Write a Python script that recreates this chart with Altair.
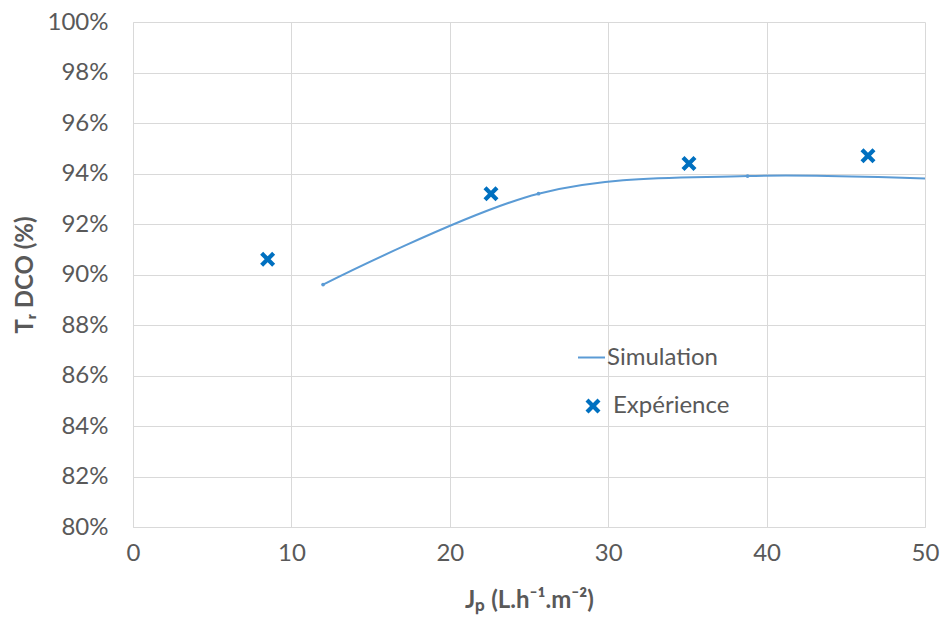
import altair as alt
import pandas as pd

# Simulation (smoothed line with small markers)
sim_x = [12.0, 25.6, 38.8, 52.0]
sim_y = [0.896, 0.932, 0.939, 0.9375]
# Experimental points
exp_x = [8.5, 22.6, 35.1, 46.4]
exp_y = [0.906, 0.932, 0.944, 0.947]

x_ticks = [0, 10, 20, 30, 40, 50]
y_ticks = [0.80, 0.82, 0.84, 0.86, 0.88, 0.90, 0.92, 0.94, 0.96, 0.98, 1.00]

sim = pd.DataFrame({"x": sim_x, "y": sim_y, "series": ["Simulation"] * len(sim_x)})
exp = pd.DataFrame({"x": exp_x, "y": exp_y, "series": ["Expérience"] * len(exp_x)})

FONT = "Lato"
TXT = "#595959"
GRID = "#d9d9d9"
SIM_C = "#5b9bd5"
EXP_C = "#0070c0"
XPATH = "M-1,-0.6L-0.6,-1L0,-0.4L0.6,-1L1,-0.6L0.4,0L1,0.6L0.6,1L0,0.4L-0.6,1L-1,0.6L-0.4,0Z"

xenc = alt.X("x:Q", scale=alt.Scale(domain=[0, 50], nice=False),
             axis=alt.Axis(values=x_ticks, title="Jₚ (L.h⁻¹.m⁻²)", format="d",
                           labelPadding=14, titlePadding=23, labelFlush=False))
yenc = alt.Y("y:Q", scale=alt.Scale(domain=[0.8, 1.0], nice=False, zero=False),
             axis=alt.Axis(values=y_ticks, format=".0%", title="Tᵣ DCO (%)",
                           labelPadding=25, titlePadding=10, labelFlush=False))

line = alt.Chart(sim).mark_line(
    interpolate="cardinal", tension=0, strokeWidth=2, clip=True
).encode(
    x=xenc, y=yenc,
    color=alt.Color("series:N", scale=alt.Scale(domain=["Simulation"], range=[SIM_C]),
                    legend=alt.Legend(title=None, orient="none", legendX=444, legendY=321,
                                      symbolType="stroke", symbolSize=729,
                                      symbolStrokeWidth=2, labelOffset=1,
                                      padding=0)),
)

sim_pts = alt.Chart(sim).mark_circle(size=14, color=SIM_C, opacity=1, clip=True).encode(
    x="x:Q", y="y:Q"
)

pts = alt.Chart(exp).mark_point(filled=True, opacity=1, size=225, color=EXP_C).encode(
    x="x:Q", y="y:Q",
    shape=alt.Shape("series:N", scale=alt.Scale(domain=["Expérience"], range=[XPATH]),
                    legend=alt.Legend(title=None, orient="none", legendX=448, legendY=372,
                                      symbolSize=225, symbolFillColor=EXP_C,
                                      symbolStrokeWidth=0, labelOffset=8, padding=0)),
)

chart = alt.layer(line, sim_pts, pts).resolve_scale(color="independent", shape="independent").resolve_legend(
    color="independent", shape="independent"
).properties(
    width=792, height=505,
    autosize=alt.AutoSizeParams(type="none"),
    padding={"left": 133, "top": 22, "right": 16, "bottom": 90},
).configure_view(stroke=None).configure_axis(
    labelFont=FONT, titleFont=FONT, labelFontSize=24, titleFontSize=24,
    labelColor=TXT, titleColor=TXT, titleFontWeight="bold",
    grid=True, gridColor=GRID, gridWidth=1, domainColor=GRID, ticks=False,
).configure_legend(
    labelFont=FONT, labelFontSize=24, labelColor=TXT, labelLimit=300,
)

chart.save("out.html", embed_options={"renderer": "svg", "actions": False})
